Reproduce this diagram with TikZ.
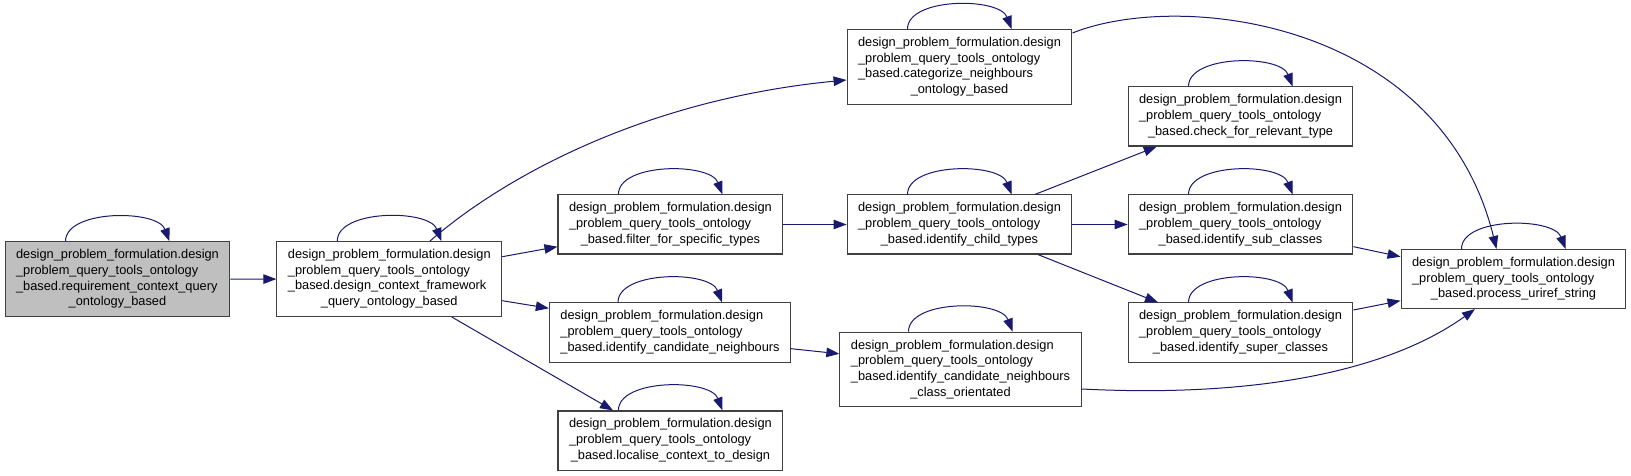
\documentclass[tikz,border=0pt]{standalone}
\usepackage{fontspec}
\setmainfont{Liberation Sans}
\usetikzlibrary{arrows.meta}
\definecolor{midnight}{RGB}{25,25,112}
\definecolor{boxline}{RGB}{64,64,64}
\definecolor{rootfill}{RGB}{191,191,191}
\newcommand{\fnlbl}[2]{\begin{tabular}{@{}l@{}}#1\\\multicolumn{1}{@{}c@{}}{#2}\end{tabular}}
\begin{document}
\begin{tikzpicture}[x=1bp,y=-1bp,>={Triangle[length=13bp,width=9.5bp]},
   fn/.style={draw=boxline,line width=1.1bp,fill=white,inner xsep=11bp,inner ysep=6bp,
     font=\fontsize{12.8bp}{15.7bp}\selectfont},
   root/.style={fn,fill=rootfill},
   call/.style={->,draw=midnight,line width=1bp}]
   \useasboundingbox (0,0) rectangle (1631,476);
   %nodes
   \node[root] (req) at (117.5,279.2) {\fnlbl{design\_problem\_formulation.design\\\_problem\_query\_tools\_ontology\\\_based.requirement\_context\_query}{\_ontology\_based}};
   \node[fn] (dcf) at (389.3,279) {\fnlbl{design\_problem\_formulation.design\\\_problem\_query\_tools\_ontology\\\_based.design\_context\_framework}{\_query\_ontology\_based}};
   \node[fn] (cat) at (959.5,67) {\fnlbl{design\_problem\_formulation.design\\\_problem\_query\_tools\_ontology\\\_based.categorize\_neighbours}{\_ontology\_based}};
   \node[fn] (filter) at (670.4,224.5) {\fnlbl{design\_problem\_formulation.design\\\_problem\_query\_tools\_ontology}{\_based.filter\_for\_specific\_types}};
   \node[fn] (cand) at (670,332.5) {\fnlbl{design\_problem\_formulation.design\\\_problem\_query\_tools\_ontology}{\_based.identify\_candidate\_neighbours}};
   \node[fn] (localise) at (670.4,440.5) {\fnlbl{design\_problem\_formulation.design\\\_problem\_query\_tools\_ontology}{\_based.localise\_context\_to\_design}};
   \node[fn] (child) at (959.5,224.5) {\fnlbl{design\_problem\_formulation.design\\\_problem\_query\_tools\_ontology}{\_based.identify\_child\_types}};
   \node[fn] (cco) at (960.5,369.5) {\fnlbl{design\_problem\_formulation.design\\\_problem\_query\_tools\_ontology\\\_based.identify\_candidate\_neighbours}{\_class\_orientated}};
   \node[fn] (check) at (1240.5,116.5) {\fnlbl{design\_problem\_formulation.design\\\_problem\_query\_tools\_ontology}{\_based.check\_for\_relevant\_type}};
   \node[fn] (sub) at (1240.5,224.5) {\fnlbl{design\_problem\_formulation.design\\\_problem\_query\_tools\_ontology}{\_based.identify\_sub\_classes}};
   \node[fn] (super) at (1240.5,332.5) {\fnlbl{design\_problem\_formulation.design\\\_problem\_query\_tools\_ontology}{\_based.identify\_super\_classes}};
   \node[fn] (process) at (1513.5,279) {\fnlbl{design\_problem\_formulation.design\\\_problem\_query\_tools\_ontology}{\_based.process\_uriref\_string}};
   %self loops
   \foreach \n in {req,dcf,cat,filter,cand,localise,child,cco,check,sub,super,process}
     \draw[call] ([xshift=-52bp]\n.north) .. controls +(0,-32) and +(-12,-32) .. ([xshift=52bp]\n.north);
   %calls
   \draw[call] (req) -- (dcf);
   \draw[call] ([xshift=40.7bp]dcf.north) .. controls (500,180) and (640,100) .. ([yshift=-13bp]cat.west);
   \draw[call] ([yshift=22.3bp]dcf.east) -- ([yshift=-22.2bp]filter.west);
   \draw[call] ([yshift=-21.7bp]dcf.east) -- ([yshift=24.2bp]cand.west);
   \draw[call] ([xshift=62.4bp]dcf.south) -- ([xshift=-57.4bp]localise.north);
   \draw[call] (filter) -- (child);
   \draw[call] ([yshift=-16.2bp]cand.east) -- ([yshift=15.7bp]cco.west);
   \draw[call] ([xshift=75.5bp]child.north) -- ([xshift=-83.8bp]check.south);
   \draw[call] (child) -- (sub);
   \draw[call] ([xshift=78.5bp]child.south) -- ([xshift=-82.5bp]super.north);
   \draw[call] ([yshift=-22.2bp]sub.east) -- ([yshift=22.3bp]process.west);
   \draw[call] ([yshift=22.5bp]super.east) -- ([yshift=-21.7bp]process.west);
   \draw[call] ([yshift=34bp]cat.east) .. controls (1180,-10) and (1440,20) .. ([xshift=-17bp]process.north);
   \draw[call] ([yshift=-19.5bp]cco.east) .. controls (1260,398) and (1390,370) .. ([xshift=-38.5bp]process.south);
\end{tikzpicture}
\end{document}
